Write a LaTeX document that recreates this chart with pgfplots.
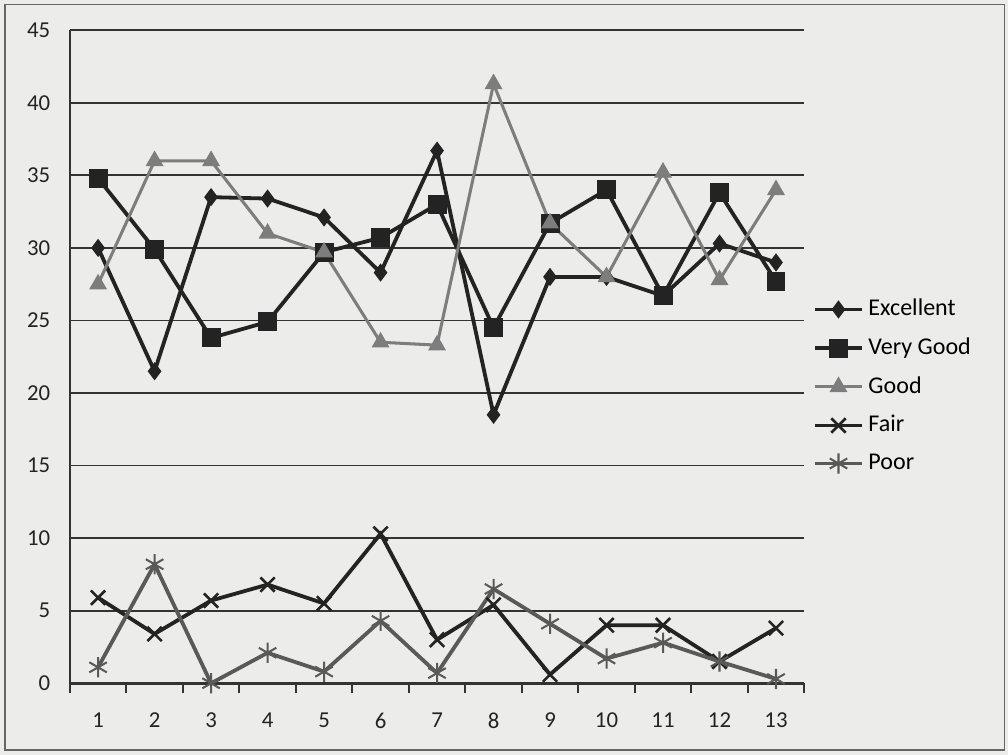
\documentclass[border=0pt]{standalone}
\usepackage{pgfplots}
\pgfplotsset{compat=1.18}
\usepackage{fontspec}
\setmainfont{Carlito}
\usetikzlibrary{plotmarks}
\definecolor{paper}{RGB}{236,236,234}
\definecolor{dark}{RGB}{35,35,35}
\definecolor{mid}{RGB}{125,125,125}
\begin{document}
\begin{tikzpicture}
\fill[paper] (-0.97,-0.99) rectangle (13.03,9.49);
\draw[black!60, line width=0.6pt] (-0.9,-0.93) rectangle (12.98,9.43);
\path[use as bounding box] (-0.97,-0.99) rectangle (13.03,9.49);
\begin{axis}[
    at={(0,0)}, anchor=origin,
    scale only axis,
    width=10.2cm, height=9.07cm,
    xmin=0.5, xmax=13.5,
    ymin=0, ymax=45,
    xtick={1,...,13},
    minor xtick={0.5,1.5,...,13.5},
    ytick={0,5,...,45},
    axis x line=bottom, axis y line=left,
    axis line style={-, black!80, line width=0.6pt},
    x axis line style={line width=1pt},
    major x tick style={draw=none},
    minor x tick style={black!80, line width=0.8pt},
    major y tick style={draw=none},
    tick align=outside,
    minor tick length=4pt,
    ymajorgrids,
    grid style={black!80, line width=0.7pt},
    /pgf/number format/assume math mode=true,
    tick label style={font=\fontsize{9}{11}\selectfont, text=dark},
    xticklabel style={yshift=-4pt},
    legend style={at={(1.012,0.455)}, anchor=west, draw=none, fill=none,
        font=\fontsize{9.5}{11}\selectfont, row sep=3.2pt,
        inner sep=0pt, cells={anchor=west}},
    legend image code/.code={
        \draw[mark repeat=2,mark phase=2] plot coordinates {(0cm,0cm) (0.32cm,0cm) (0.64cm,0cm)};},
    every axis plot/.append style={line width=1.5pt, mark size=3.2pt},
]
\addplot[dark, mark=diamond*, mark options={solid, line width=0.5pt}] coordinates {
  (1,30) (2,21.5) (3,33.5) (4,33.4) (5,32.1) (6,28.3) (7,36.7)
  (8,18.5) (9,28) (10,28) (11,26.7) (12,30.3) (13,29)};
\addlegendentry{Excellent}
\addplot[dark, mark=square*, mark size=3.5pt, mark options={solid, line width=0.5pt}] coordinates {
  (1,34.8) (2,29.9) (3,23.8) (4,24.9) (5,29.7) (6,30.7) (7,33)
  (8,24.5) (9,31.7) (10,34) (11,26.7) (12,33.8) (13,27.7)};
\addlegendentry{Very Good}
\addplot[mid, line width=1.2pt, mark=triangle*, mark size=3.6pt, mark options={solid, line width=0.5pt}] coordinates {
  (1,27.5) (2,36) (3,36) (4,31) (5,29.7) (6,23.5) (7,23.3)
  (8,41.3) (9,31.7) (10,28) (11,35.2) (12,27.8) (13,34)};
\addlegendentry{Good}
\addplot[dark, mark=x, mark size=4pt, mark options={solid, line width=1pt}] coordinates {
  (1,5.9) (2,3.4) (3,5.7) (4,6.8) (5,5.5) (6,10.3) (7,3)
  (8,5.4) (9,0.6) (10,4) (11,4) (12,1.5) (13,3.8)};
\addlegendentry{Fair}
\addplot[black!65, mark=asterisk, mark size=4pt, mark options={solid, line width=0.8pt}] coordinates {
  (1,1.1) (2,8.2) (3,0) (4,2.1) (5,0.8) (6,4.3) (7,0.7)
  (8,6.5) (9,4.1) (10,1.7) (11,2.8) (12,1.5) (13,0.3)};
\addlegendentry{Poor}
\end{axis}
\end{tikzpicture}
\end{document}
